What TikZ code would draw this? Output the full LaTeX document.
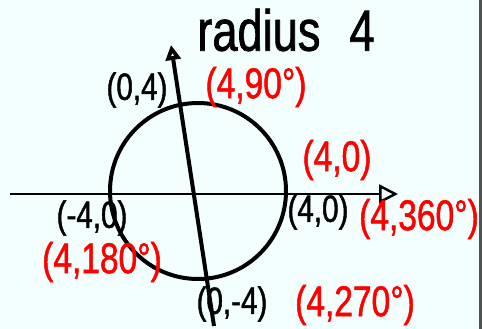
\documentclass[tikz,border=0pt]{standalone}
\usepackage{fontspec}
\setmainfont{Liberation Sans}
\newfontfamily\handfont[FakeStretch=0.78, FakeBold=1.2]{Liberation Sans}
\usetikzlibrary{arrows.meta}
\definecolor{boardbg}{HTML}{F2FFFE}
\definecolor{boardedge}{HTML}{505050}
\begin{document}
\begin{tikzpicture}[x=1pt, y=-1pt,
  blk/.style={text=black, inner sep=0pt, font=\handfont\fontsize{38}{40}\selectfont},
  redlbl/.style={text=red, inner sep=0pt, font=\handfont\fontsize{43}{45}\selectfont},
  axis/.style={-{Triangle[open, length=#1, width=#1]}, line width=2.5pt},
  ring/.style={circle, draw, line width=4pt, minimum size=176pt, inner sep=0pt}
]
  % board
  \fill[boardbg] (0,0) rectangle (482,329);
  \fill[boardedge] (479,0) rectangle (482,329);
  \useasboundingbox (0,0) rectangle (482,329);

  \node[ring] (unit) at (198,191) {};
  \coordinate (xstart) at (10,194);
  \coordinate (xend)   at (398,194);
  \coordinate (ystart) at (214,326);
  \coordinate (yend)   at (171,45);
  \draw[axis=19pt] (xstart) -- (xend);
  \draw[axis=15pt, line width=4pt] (ystart) -- (yend);

  \node[font=\handfont\fontsize{58}{60}\selectfont, inner sep=0pt] (title) at (286,30) {radius\enspace 4};

  \node[blk]    (top)     at (137,90)  {(0,4)};
  \node[redlbl] (toppol)  at (256,87)  {(4,90°)};
  \node[redlbl] (rgtpol)  at (337,160) {(4,0)};
  \node[blk]    (left)    at (92,218)  {(-4,0)};
  \node[blk]    (right)   at (318,212) {(4,0)};
  \node[redlbl] (fullpol) at (419,219) {(4,360°)};
  \node[redlbl] (lftpol)  at (102,262) {(4,180°)};
  \node[blk]    (bottom)  at (232,304) {(0,-4)};
  \node[redlbl] (botpol)  at (355,305) {(4,270°)};
\end{tikzpicture}
\end{document}
